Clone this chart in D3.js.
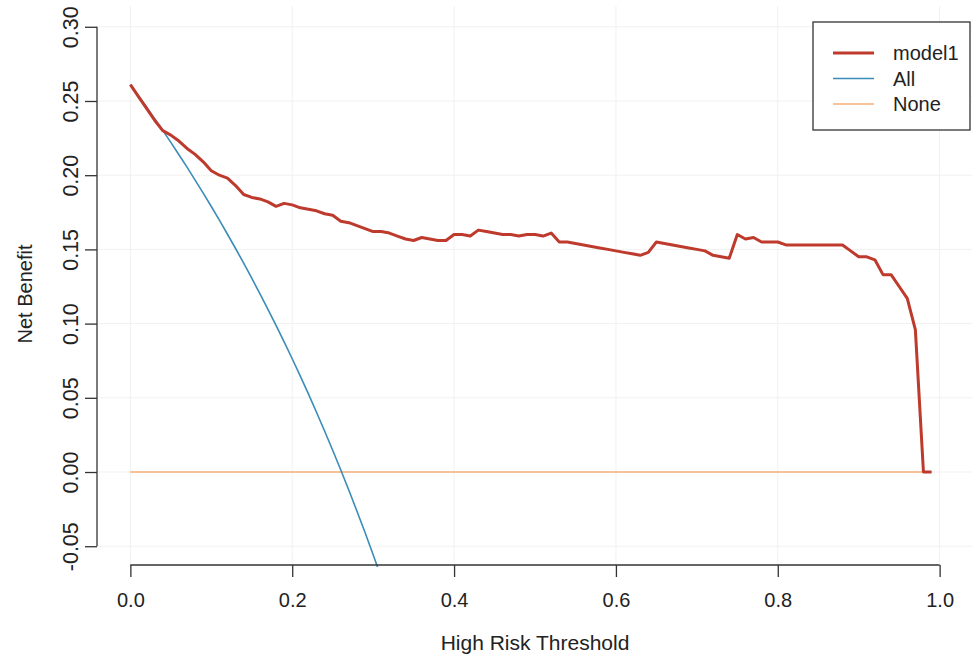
<!DOCTYPE html>
<html>
<head>
<meta charset="utf-8">
<script src="https://cdn.jsdelivr.net/npm/d3@7"></script>
<style>
  body { margin: 0; background: #fff; }
  text { font-family: "Liberation Sans", Arial, sans-serif; fill: #222; }
</style>
</head>
<body>
<script>
// decision curve: net benefit vs high risk threshold

var thresholds = [0.00, 0.01, 0.02, 0.03, 0.04, 0.05, 0.06, 0.07, 0.08, 0.09,
    0.10, 0.11, 0.12, 0.13, 0.14, 0.15, 0.16, 0.17, 0.18, 0.19,
    0.20, 0.21, 0.22, 0.23, 0.24, 0.25, 0.26, 0.27, 0.28, 0.29,
    0.30, 0.31, 0.32, 0.33, 0.34, 0.35, 0.36, 0.37, 0.38, 0.39,
    0.40, 0.41, 0.42, 0.43, 0.44, 0.45, 0.46, 0.47, 0.48, 0.49,
    0.50, 0.51, 0.52, 0.53, 0.54, 0.55, 0.56, 0.57, 0.58, 0.59,
    0.60, 0.61, 0.62, 0.63, 0.64, 0.65, 0.66, 0.67, 0.68, 0.69,
    0.70, 0.71, 0.72, 0.73, 0.74, 0.75, 0.76, 0.77, 0.78, 0.79,
    0.80, 0.81, 0.82, 0.83, 0.84, 0.85, 0.86, 0.87, 0.88, 0.89,
    0.90, 0.91, 0.92, 0.93, 0.94, 0.95, 0.96, 0.97, 0.98, 0.99];

var model1 = [0.261, 0.253, 0.245, 0.237, 0.230, 0.227, 0.223, 0.218, 0.214, 0.209,
    0.203, 0.200, 0.198, 0.193, 0.187, 0.185, 0.184, 0.182, 0.179, 0.181,
    0.180, 0.178, 0.177, 0.176, 0.174, 0.173, 0.169, 0.168, 0.166, 0.164,
    0.162, 0.162, 0.161, 0.159, 0.157, 0.156, 0.158, 0.157, 0.156, 0.156,
    0.160, 0.160, 0.159, 0.163, 0.162, 0.161, 0.160, 0.160, 0.159, 0.160,
    0.160, 0.159, 0.161, 0.155, 0.155, 0.154, 0.153, 0.152, 0.151, 0.150,
    0.149, 0.148, 0.147, 0.146, 0.148, 0.155, 0.154, 0.153, 0.152, 0.151,
    0.150, 0.149, 0.146, 0.145, 0.144, 0.160, 0.157, 0.158, 0.155, 0.155,
    0.155, 0.153, 0.153, 0.153, 0.153, 0.153, 0.153, 0.153, 0.153, 0.149,
    0.145, 0.145, 0.143, 0.133, 0.133, 0.125, 0.117, 0.096, 0.000, 0.000];

var allThresholds = [0.00, 0.01, 0.02, 0.03, 0.04, 0.05, 0.06, 0.07, 0.08,
    0.09, 0.10, 0.11, 0.12, 0.13, 0.14, 0.15, 0.16, 0.17, 0.18, 0.19, 0.20,
    0.21, 0.22, 0.23, 0.24, 0.25, 0.26, 0.27, 0.28, 0.29, 0.30, 0.31];
var allTreat = [0.261, 0.2535, 0.2459, 0.2381, 0.2302, 0.2221, 0.2138, 0.2054,
    0.1967, 0.1879, 0.1789, 0.1697, 0.1602, 0.1506, 0.1407, 0.1306, 0.1202,
    0.1096, 0.0988, 0.0877, 0.0763, 0.0646, 0.0526, 0.0403, 0.0276, 0.0147,
    0.0014, -0.0123, -0.0264, -0.0408, -0.0557, -0.0710];

var noneThresholds = [0.00, 0.99];
var noneTreat = [0, 0];

var xTicks = [0, 0.2, 0.4, 0.6, 0.8, 1.0];
var xLabels = ["0.0", "0.2", "0.4", "0.6", "0.8", "1.0"];
var yTicks = [-0.05, 0, 0.05, 0.10, 0.15, 0.20, 0.25, 0.30];
var yLabels = ["-0.05", "0.00", "0.05", "0.10", "0.15", "0.20", "0.25", "0.30"];

var seriesNames = ["model1", "All", "None"];
var seriesColors = ["#BD3A2C", "#3A8DB8", "#F5B077"];
var seriesWidths = [3, 1.6, 1.6];

var W = 976, H = 659;
var box = {left: 98, right: 972, top: 6, bottom: 567};

var svg = d3.select("body").append("svg")
    .attr("width", W)
    .attr("height", H);

var x = d3.scaleLinear().domain([-0.04, 1.04]).range([box.left, box.right]);
var y = d3.scaleLinear().domain([-0.064, 0.314]).range([box.bottom, box.top]);

svg.append("defs").append("clipPath").attr("id", "clip")
    .append("rect")
    .attr("x", box.left).attr("y", box.top)
    .attr("width", box.right - box.left)
    .attr("height", box.bottom - box.top);

// faint grid
var grid = svg.append("g").attr("stroke", "#f1f1f1").attr("stroke-width", 1);
grid.selectAll(".gx").data(xTicks).enter().append("line")
    .attr("x1", d => x(d)).attr("x2", d => x(d))
    .attr("y1", box.top).attr("y2", box.bottom);
grid.selectAll(".gy").data(yTicks).enter().append("line")
    .attr("y1", d => y(d)).attr("y2", d => y(d))
    .attr("x1", box.left).attr("x2", box.right);

var line = d3.line().x(d => x(d[0])).y(d => y(d[1]));
var plot = svg.append("g").attr("clip-path", "url(#clip)")
    .attr("fill", "none")
    .attr("stroke-linejoin", "round");

plot.append("path")
    .datum(d3.zip(noneThresholds, noneTreat))
    .attr("d", line)
    .attr("stroke", seriesColors[2])
    .attr("stroke-width", seriesWidths[2]);

plot.append("path")
    .datum(d3.zip(allThresholds, allTreat))
    .attr("d", line)
    .attr("stroke", seriesColors[1])
    .attr("stroke-width", seriesWidths[1]);

plot.append("path")
    .datum(d3.zip(thresholds, model1))
    .attr("d", line)
    .attr("stroke", seriesColors[0])
    .attr("stroke-width", seriesWidths[0]);

// axes, R base style
var xAxis = svg.append("g")
    .attr("transform", "translate(0," + (box.bottom - 2) + ")")
    .call(d3.axisBottom(x).tickValues(xTicks)
        .tickFormat((d, i) => xLabels[i])
        .tickSize(12).tickPadding(16).tickSizeOuter(0));
xAxis.select(".domain").attr("d", "M" + x(0) + ",0H" + x(1));

var yAxis = svg.append("g")
    .attr("transform", "translate(" + (box.left - 1) + ",0)")
    .call(d3.axisLeft(y).tickValues(yTicks)
        .tickFormat((d, i) => yLabels[i])
        .tickSize(12).tickPadding(15).tickSizeOuter(0));
yAxis.select(".domain").attr("d", "M0," + y(-0.05) + "V" + y(0.30));

svg.selectAll(".domain, .tick line").attr("stroke", "#333").attr("stroke-width", 1.3);
svg.selectAll(".tick text")
    .attr("font-family", "Liberation Sans, Arial, sans-serif").attr("fill", "#222");
xAxis.selectAll(".tick text").attr("font-size", 20);
yAxis.selectAll(".tick text")
    .attr("font-size", 21.5)
    .attr("transform", "rotate(-90)")
    .attr("x", 0).attr("y", -27)
    .attr("dy", "0.35em")
    .style("text-anchor", "middle");

svg.append("text")
    .attr("x", x(0.5)).attr("y", 650)
    .attr("text-anchor", "middle")
    .attr("font-size", 21)
    .text("High Risk Threshold");

svg.append("text")
    .attr("transform", "translate(32,294) rotate(-90)")
    .attr("text-anchor", "middle")
    .attr("font-size", 20)
    .text("Net Benefit");

// legend
var leg = svg.append("g").attr("transform", "translate(813,22)");
leg.append("rect")
    .attr("width", 157).attr("height", 108)
    .attr("fill", "#fff").attr("stroke", "#333").attr("stroke-width", 1.3);
var items = leg.selectAll(".item").data(seriesNames).enter().append("g")
    .attr("transform", (d, i) => "translate(0," + (31 + i * 25.5) + ")");
items.append("line")
    .attr("x1", 20).attr("x2", 61)
    .attr("stroke", (d, i) => seriesColors[i])
    .attr("stroke-width", (d, i) => seriesWidths[i]);
items.append("text")
    .attr("x", 80).attr("dy", "0.35em")
    .attr("font-size", 20)
    .text(d => d);
</script>
</body>
</html>
